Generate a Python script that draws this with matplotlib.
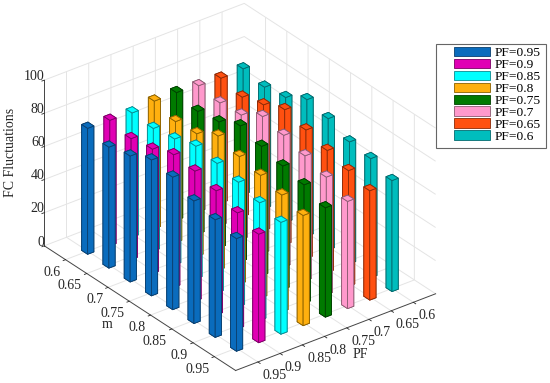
import matplotlib
matplotlib.use("Agg")
import matplotlib.pyplot as plt
from matplotlib.patches import Patch, Rectangle
from matplotlib.transforms import ScaledTranslation
import numpy as np

plt.rcParams['font.family'] = ['Liberation Serif', 'DejaVu Serif']
plt.rcParams['font.size'] = 10
plt.rcParams['grid.color'] = '#e4e4e4'
plt.rcParams['grid.linewidth'] = 0.7

m_labels = ['0.6', '0.65', '0.7', '0.75', '0.8', '0.85', '0.9', '0.95']
pf_labels = ['0.95', '0.9', '0.85', '0.8', '0.75', '0.7', '0.65', '0.6']
z_ticks = [0, 20, 40, 60, 80, 100]

# one row per PF, in legend order, values along m
pf_95 = [76, 73, 76, 82, 80, 74, 71, 68]
pf_90 = [75.7, 73, 75, 80, 78.5, 75, 70, 65.5]
pf_85 = [75, 74, 76, 80, 78, 75, 71, 67.5]
pf_80 = [77, 73, 74, 81, 77, 74, 70.5, 66.5]
pf_75 = [77, 74, 76, 82, 78, 74.5, 71.5, 66]
pf_70 = [76, 74, 75, 82.5, 79.5, 75.5, 71, 64.7]
pf_65 = [75.4, 72.3, 76, 81.5, 77.6, 73.6, 69.8, 66]
pf_60 = [75.9, 73.2, 75.3, 82.4, 79.3, 73.6, 71.9, 67]
series = [pf_95, pf_90, pf_85, pf_80, pf_75, pf_70, pf_65, pf_60]

colors = ['#0a6cbd', '#e000b4', '#00ffff', '#ffb00f', '#007a00', '#ff99cc', '#ff5010', '#00bdbd']
edges = ['#0a3f6e', '#7a0064', '#0a8a90', '#8a6000', '#004000', '#8a5a70', '#8a2a08', '#056a6e']

fig = plt.figure(figsize=(5.5, 3.83), dpi=100)
S = 433
ax = fig.add_axes([17.6 / 550, -26.3 / 383, S / 550, S / 383], projection='3d', proj_type='ortho',
                  computed_zorder=False)
ax.set_box_aspect((313, 251, 190.5), zoom=1)
ax.view_init(elev=30, azim=-37.5)
ax.patch.set_alpha(0)

w = 0.28
# back to front, so the tall bars overlap properly
order = []
for j in range(8):
    for i in range(8):
        order.append((j - i, i, j))
order.sort(reverse=True)
for n, (d, i, j) in enumerate(order):
    ax.bar3d(i - w / 2, j - w / 2, 0, w, w, series[j][i], color=colors[j], edgecolor=edges[j],
             linewidth=0.6, shade=False, zorder=10 + n)

ax.set_xlim(-1, 8, view_margin=0)
ax.set_ylim(-1, 8, view_margin=0)
ax.set_zlim(0, 100, view_margin=0)
ax.set_xticks(range(8))
ax.set_xticklabels(m_labels)
ax.set_yticks(range(8))
ax.set_yticklabels(pf_labels)
ax.set_zticks(z_ticks)
ax.set_zticklabels([str(z) for z in z_ticks])
for t in ax.get_xticklabels():
    t.set_ha('right')
for t in ax.get_yticklabels():
    t.set_ha('left')
ax.zaxis.set_ticks_position('lower')
ax.zaxis.set_label_position('lower')
ax.tick_params(colors='#262626', pad=-4)

# pad only moves the z labels along a diagonal. mplot3d resets the transform at every
# get_major_ticks, so block that to keep the shift
shift = ScaledTranslation(10 / 100, 9 / 100, fig.dpi_scale_trans)
for t in ax.get_zticklabels():
    t.set_ha('right')
    t.set_transform(ax.transData + shift)
    t.set_transform = lambda tr: None

# axis titles sit where the original put them, mplot3d offsets them differently
fig.text(107 / 550, 1 - 325 / 383, 'm', ha='center', va='center', color='#262626')
fig.text(360 / 550, 1 - 355 / 383, 'PF', ha='center', va='center', color='#262626')
fig.text(11 / 550, 1 - 152 / 383, 'FC Fluctuations', ha='center', va='center', rotation=90, color='#262626')

for axis in (ax.xaxis, ax.yaxis, ax.zaxis):
    axis.set_pane_color((1, 1, 1, 1))
    axis.pane.set_edgecolor('white')
    axis.line.set_color('#444444')
    axis.line.set_linewidth(0.7)
    axis._axinfo['tick']['inward_factor'] = 0.15
    axis._axinfo['tick']['outward_factor'] = 0.0
    axis._axinfo['tick']['linewidth'] = {True: 0.6, False: 0.6}
    axis._axinfo['tick']['color'] = '#444444'

# frame drawn apart from the legend: the original has a wide blank margin on its left
fig.add_artist(Rectangle((436 / 550, 1 - 148 / 383), 110 / 550, 104 / 383, transform=fig.transFigure,
                         facecolor='white', edgecolor='#666666', linewidth=0.8, zorder=5))
handles = [Patch(facecolor=c, edgecolor=e, linewidth=0.6) for c, e in zip(colors, edges)]
names = ['PF=' + p for p in pf_labels]
leg = fig.legend(handles, names, loc='upper left', bbox_to_anchor=(454 / 550, 1 - 47 / 383),
                 borderaxespad=0, frameon=False, fontsize=9.7, handlelength=2.7, handleheight=0.7,
                 labelspacing=-0.04, handletextpad=0.3, borderpad=0)
leg.set_zorder(6)

fig.savefig('out.png', dpi=100)
